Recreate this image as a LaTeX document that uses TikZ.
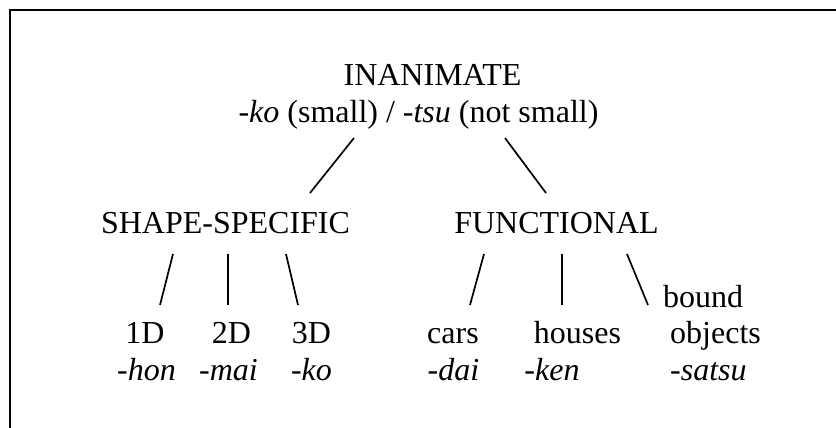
\documentclass[tikz,border=0pt]{standalone}
\usepackage{fontspec}
\setmainfont{Liberation Serif}
\begin{document}
\begin{tikzpicture}[x=1pt,y=-1pt,
  lbl/.style={inner sep=0pt, anchor=base, font=\fontsize{32}{36.5}\selectfont},
  lblw/.style={lbl, anchor=base west},
  branch/.style={line width=1.7pt},
  frame/.style={line width=2.2pt}]
\useasboundingbox (0,0) rectangle (836,428);

% open frame: top and left edges only
\coordinate (fTL) at (10,10);
\coordinate (fTR) at (836,10);
\coordinate (fBL) at (10,428);
\draw[frame] (fTR) -- (fTL) -- (fBL);

% root
\node[lbl] (root) at (432.5,86) {INANIMATE};
\node[lbl] (rootsfx) at (418.5,122) {\textit{-ko} (small) / \textit{-tsu} (not small)};

% second level
\node[lbl] (shape) at (225.5,233) {SHAPE-SPECIFIC};
\node[lbl] (func) at (556.5,233) {FUNCTIONAL};

% shape-specific leaves
\node[lbl] (d1) at (145,343) {1D};
\node[lbl] (d2) at (231.5,343) {2D};
\node[lbl] (d3) at (311.5,343) {3D};
\node[lbl] (d1s) at (146.5,380) {\textit{-hon}};
\node[lbl] (d2s) at (228.5,380) {\textit{-mai}};
\node[lbl] (d3s) at (311.5,380) {\textit{-ko}};

% functional leaves
\node[lbl] (cars) at (453,343) {cars};
\node[lbl] (houses) at (577.5,343) {houses};
\node[lblw] (bound) at (663,307) {bound};
\node[lblw] (objects) at (670,343) {objects};
\node[lbl] (carss) at (453.5,380) {\textit{-dai}};
\node[lbl] (housess) at (552,380) {\textit{-ken}};
\node[lblw] (objectss) at (670,380) {\textit{-satsu}};

% branch end points
\coordinate (rL) at (354,138);  \coordinate (sT) at (310,193);
\coordinate (rR) at (505,138);  \coordinate (fT) at (546,193);

\coordinate (s1a) at (173,254); \coordinate (s1b) at (160,305);
\coordinate (s2a) at (228,254); \coordinate (s2b) at (228,305);
\coordinate (s3a) at (286,254); \coordinate (s3b) at (298,305);

\coordinate (f1a) at (484,254); \coordinate (f1b) at (470,305);
\coordinate (f2a) at (562,254); \coordinate (f2b) at (562,305);
\coordinate (f3a) at (627,254); \coordinate (f3b) at (648,305);

\draw[branch] (rL) -- (sT);
\draw[branch] (rR) -- (fT);
\draw[branch] (s1a) -- (s1b);
\draw[branch] (s2a) -- (s2b);
\draw[branch] (s3a) -- (s3b);
\draw[branch] (f1a) -- (f1b);
\draw[branch] (f2a) -- (f2b);
\draw[branch] (f3a) -- (f3b);
\end{tikzpicture}
\end{document}
